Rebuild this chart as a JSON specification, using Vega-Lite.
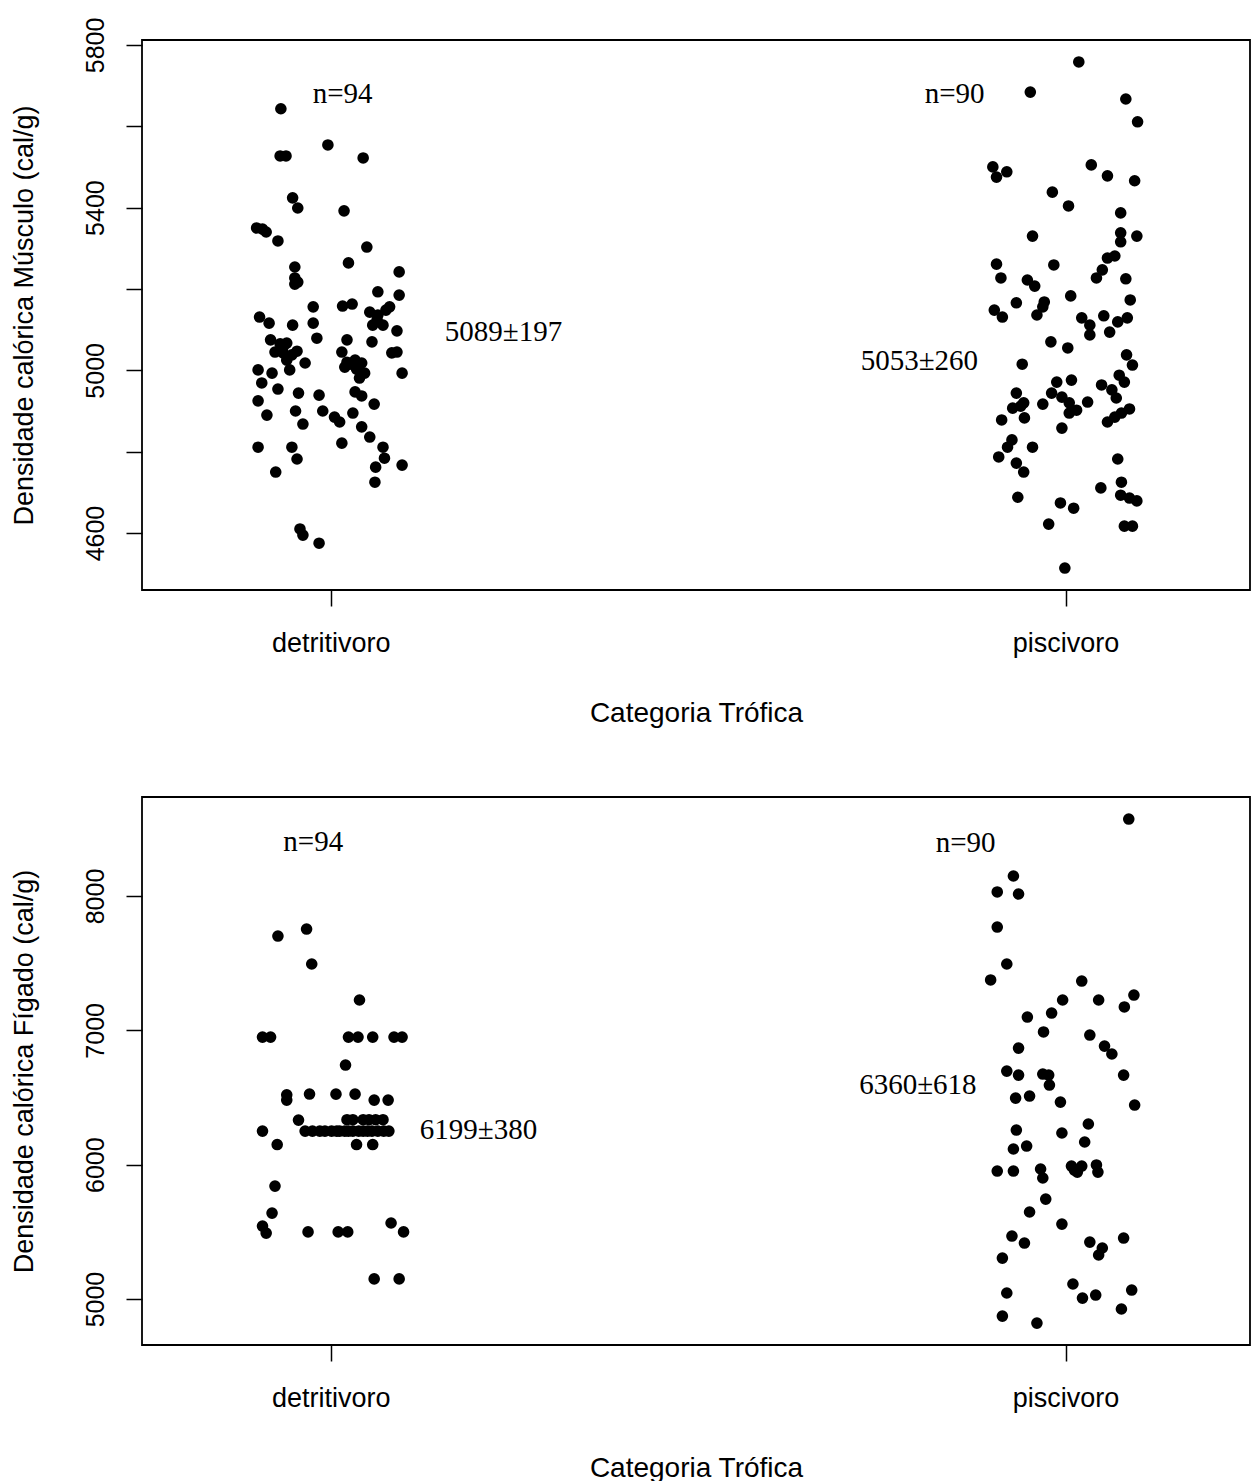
{
  "$schema": "https://vega.github.io/schema/vega-lite/v6.json",
  "background": "white",
  "padding": {"left": 9, "top": 16, "right": 0, "bottom": 0},
  "config": {
    "view": {"stroke": "#000", "strokeWidth": 1.8},
    "concat": {"spacing": 68},
    "axis": {"grid": false, "domain": false, "tickColor": "#000", "tickWidth": 1.5, "tickSize": 16, "labelColor": "#000", "titleColor": "#000", "labelFont": "Liberation Sans", "titleFont": "Liberation Sans", "titleFontWeight": "normal", "labelFlush": false, "labelOverlap": false}
  },
  "datasets": {
    "musc": [
      {"pos":0.932,"val":5643},{"pos":0.996,"val":5554},{"pos":0.931,"val":5527},{"pos":0.939,"val":5527},{"pos":1.044,"val":5522},{"pos":0.948,"val":5424},{"pos":0.955,"val":5399},{"pos":1.018,"val":5392},{"pos":0.899,"val":5350},{"pos":0.912,"val":5340},{"pos":0.928,"val":5318},{"pos":1.049,"val":5303},{"pos":0.951,"val":5254},{"pos":0.951,"val":5227},{"pos":0.951,"val":5212},{"pos":1.024,"val":5264},{"pos":1.093,"val":5242},{"pos":1.064,"val":5193},{"pos":1.093,"val":5185},{"pos":0.976,"val":5156},{"pos":1.016,"val":5158},{"pos":1.029,"val":5163},{"pos":1.053,"val":5143},{"pos":1.064,"val":5136},{"pos":1.080,"val":5156},{"pos":1.057,"val":5111},{"pos":1.071,"val":5111},{"pos":0.903,"val":5131},{"pos":0.916,"val":5116},{"pos":0.948,"val":5111},{"pos":0.976,"val":5116},{"pos":1.090,"val":5097},{"pos":0.981,"val":5079},{"pos":1.022,"val":5075},{"pos":1.056,"val":5070},{"pos":1.083,"val":5043},{"pos":1.090,"val":5045},{"pos":0.918,"val":5075},{"pos":0.931,"val":5065},{"pos":0.940,"val":5067},{"pos":0.924,"val":5045},{"pos":0.935,"val":5043},{"pos":0.954,"val":5047},{"pos":0.940,"val":5025},{"pos":0.944,"val":5001},{"pos":0.965,"val":5018},{"pos":1.015,"val":5045},{"pos":1.022,"val":5020},{"pos":1.033,"val":5025},{"pos":1.042,"val":5018},{"pos":1.019,"val":5008},{"pos":1.046,"val":4993},{"pos":1.039,"val":4981},{"pos":0.901,"val":5001},{"pos":0.920,"val":4993},{"pos":0.906,"val":4969},{"pos":1.097,"val":4993},{"pos":0.928,"val":4954},{"pos":0.956,"val":4944},{"pos":0.984,"val":4939},{"pos":1.033,"val":4947},{"pos":1.042,"val":4937},{"pos":0.901,"val":4925},{"pos":1.059,"val":4917},{"pos":0.952,"val":4900},{"pos":0.989,"val":4900},{"pos":1.005,"val":4885},{"pos":1.012,"val":4873},{"pos":1.030,"val":4895},{"pos":0.913,"val":4890},{"pos":0.962,"val":4868},{"pos":1.042,"val":4861},{"pos":1.053,"val":4836},{"pos":1.015,"val":4821},{"pos":0.901,"val":4811},{"pos":0.947,"val":4811},{"pos":0.954,"val":4782},{"pos":1.071,"val":4811},{"pos":1.073,"val":4784},{"pos":1.061,"val":4762},{"pos":1.097,"val":4767},{"pos":0.925,"val":4750},{"pos":1.060,"val":4725},{"pos":0.958,"val":4610},{"pos":0.962,"val":4595},{"pos":0.984,"val":4575},{"pos":0.935,"val":5057},{"pos":0.947,"val":5038},{"pos":1.026,"val":5015},{"pos":1.035,"val":5003},{"pos":1.063,"val":5124},{"pos":0.955,"val":5217},{"pos":1.075,"val":5148},{"pos":0.907,"val":5347},
      {"pos":2.018,"val":5758},{"pos":1.952,"val":5684},{"pos":2.082,"val":5667},{"pos":2.098,"val":5611},{"pos":1.901,"val":5500},{"pos":1.906,"val":5475},{"pos":1.920,"val":5488},{"pos":2.035,"val":5505},{"pos":2.057,"val":5478},{"pos":2.094,"val":5466},{"pos":1.982,"val":5438},{"pos":2.004,"val":5404},{"pos":2.075,"val":5387},{"pos":1.955,"val":5330},{"pos":2.075,"val":5338},{"pos":2.075,"val":5316},{"pos":2.097,"val":5330},{"pos":1.906,"val":5261},{"pos":1.912,"val":5227},{"pos":1.984,"val":5259},{"pos":2.057,"val":5276},{"pos":2.067,"val":5281},{"pos":2.050,"val":5247},{"pos":2.042,"val":5227},{"pos":1.948,"val":5222},{"pos":1.958,"val":5207},{"pos":2.082,"val":5225},{"pos":2.007,"val":5183},{"pos":1.933,"val":5166},{"pos":1.971,"val":5168},{"pos":1.969,"val":5156},{"pos":2.088,"val":5173},{"pos":1.903,"val":5148},{"pos":1.961,"val":5136},{"pos":1.914,"val":5131},{"pos":2.022,"val":5129},{"pos":2.033,"val":5111},{"pos":2.033,"val":5087},{"pos":2.052,"val":5134},{"pos":2.060,"val":5094},{"pos":2.071,"val":5119},{"pos":2.084,"val":5129},{"pos":1.980,"val":5070},{"pos":2.003,"val":5055},{"pos":1.941,"val":5015},{"pos":2.083,"val":5038},{"pos":2.091,"val":5013},{"pos":2.073,"val":4988},{"pos":2.080,"val":4971},{"pos":1.988,"val":4971},{"pos":2.008,"val":4976},{"pos":1.981,"val":4944},{"pos":1.995,"val":4934},{"pos":2.049,"val":4964},{"pos":2.063,"val":4952},{"pos":2.069,"val":4932},{"pos":1.933,"val":4944},{"pos":1.943,"val":4920},{"pos":1.928,"val":4907},{"pos":1.939,"val":4912},{"pos":1.969,"val":4917},{"pos":2.005,"val":4920},{"pos":2.015,"val":4902},{"pos":2.005,"val":4895},{"pos":2.030,"val":4922},{"pos":2.087,"val":4905},{"pos":2.076,"val":4895},{"pos":2.067,"val":4885},{"pos":2.057,"val":4873},{"pos":1.913,"val":4878},{"pos":1.944,"val":4883},{"pos":1.995,"val":4858},{"pos":1.927,"val":4829},{"pos":1.921,"val":4811},{"pos":1.909,"val":4787},{"pos":1.955,"val":4811},{"pos":1.933,"val":4772},{"pos":1.943,"val":4750},{"pos":2.071,"val":4782},{"pos":2.076,"val":4725},{"pos":2.075,"val":4693},{"pos":2.087,"val":4686},{"pos":2.097,"val":4679},{"pos":2.048,"val":4711},{"pos":1.935,"val":4688},{"pos":1.993,"val":4674},{"pos":2.011,"val":4661},{"pos":1.977,"val":4622},{"pos":2.080,"val":4617},{"pos":2.091,"val":4617},{"pos":1.999,"val":4514}
    ],
    "figa": [
      {"pos":0.928,"val":7702},{"pos":0.967,"val":7754},{"pos":0.974,"val":7494},{"pos":1.039,"val":7226},{"pos":0.907,"val":6950},{"pos":0.918,"val":6950},{"pos":1.024,"val":6950},{"pos":1.037,"val":6950},{"pos":1.057,"val":6950},{"pos":1.086,"val":6950},{"pos":1.097,"val":6950},{"pos":1.020,"val":6742},{"pos":0.940,"val":6520},{"pos":0.940,"val":6481},{"pos":0.971,"val":6526},{"pos":1.007,"val":6525},{"pos":1.033,"val":6525},{"pos":1.059,"val":6481},{"pos":1.078,"val":6481},{"pos":0.956,"val":6332},{"pos":1.022,"val":6335},{"pos":1.044,"val":6335},{"pos":1.061,"val":6335},{"pos":1.071,"val":6335},{"pos":0.907,"val":6250},{"pos":0.965,"val":6250},{"pos":0.985,"val":6250},{"pos":1.001,"val":6250},{"pos":1.019,"val":6250},{"pos":1.030,"val":6250},{"pos":1.044,"val":6250},{"pos":1.050,"val":6250},{"pos":1.064,"val":6250},{"pos":1.079,"val":6250},{"pos":0.927,"val":6150},{"pos":1.035,"val":6150},{"pos":1.057,"val":6150},{"pos":0.924,"val":5841},{"pos":0.920,"val":5640},{"pos":0.907,"val":5543},{"pos":0.912,"val":5491},{"pos":0.969,"val":5500},{"pos":1.010,"val":5500},{"pos":1.023,"val":5500},{"pos":1.082,"val":5566},{"pos":1.099,"val":5500},{"pos":1.059,"val":5150},{"pos":1.093,"val":5150},{"pos":0.975,"val":6250},{"pos":0.992,"val":6250},{"pos":1.008,"val":6250},{"pos":1.012,"val":6250},{"pos":1.024,"val":6250},{"pos":1.038,"val":6250},{"pos":1.056,"val":6250},{"pos":1.072,"val":6250},{"pos":1.030,"val":6335},{"pos":1.052,"val":6335},
      {"pos":2.086,"val":8573},{"pos":1.929,"val":8149},{"pos":1.907,"val":8030},{"pos":1.936,"val":8015},{"pos":1.907,"val":7769},{"pos":1.920,"val":7494},{"pos":1.898,"val":7375},{"pos":2.022,"val":7367},{"pos":1.996,"val":7226},{"pos":2.045,"val":7226},{"pos":2.093,"val":7263},{"pos":2.080,"val":7174},{"pos":1.981,"val":7129},{"pos":1.948,"val":7099},{"pos":1.970,"val":6988},{"pos":2.033,"val":6965},{"pos":2.053,"val":6883},{"pos":2.063,"val":6824},{"pos":1.936,"val":6868},{"pos":1.920,"val":6697},{"pos":1.936,"val":6667},{"pos":1.969,"val":6675},{"pos":1.977,"val":6667},{"pos":1.978,"val":6593},{"pos":2.079,"val":6667},{"pos":1.932,"val":6496},{"pos":1.951,"val":6511},{"pos":1.993,"val":6466},{"pos":2.094,"val":6444},{"pos":1.933,"val":6258},{"pos":1.995,"val":6236},{"pos":2.031,"val":6303},{"pos":2.026,"val":6169},{"pos":1.929,"val":6117},{"pos":1.947,"val":6139},{"pos":1.907,"val":5953},{"pos":1.929,"val":5953},{"pos":1.966,"val":5968},{"pos":1.969,"val":5901},{"pos":2.008,"val":5990},{"pos":2.022,"val":5990},{"pos":2.016,"val":5945},{"pos":2.012,"val":5960},{"pos":2.042,"val":5998},{"pos":2.044,"val":5945},{"pos":1.973,"val":5744},{"pos":1.951,"val":5648},{"pos":1.995,"val":5558},{"pos":1.927,"val":5469},{"pos":1.944,"val":5417},{"pos":1.914,"val":5305},{"pos":2.033,"val":5424},{"pos":2.050,"val":5380},{"pos":2.045,"val":5328},{"pos":2.079,"val":5454},{"pos":2.010,"val":5112},{"pos":1.920,"val":5045},{"pos":2.023,"val":5007},{"pos":2.041,"val":5030},{"pos":2.090,"val":5067},{"pos":2.076,"val":4926},{"pos":1.914,"val":4873},{"pos":1.961,"val":4821}
    ],
    "ann1": [
      {"pos":1.016,"val":5679,"label":"n=94"},
      {"pos":1.849,"val":5679,"label":"n=90"},
      {"pos":1.235,"val":5094,"label":"5089±197"},
      {"pos":1.801,"val":5022,"label":"5053±260"}
    ],
    "ann2": [
      {"pos":0.976,"val":8402,"label":"n=94"},
      {"pos":1.864,"val":8394,"label":"n=90"},
      {"pos":1.201,"val":6258,"label":"6199±380"},
      {"pos":1.799,"val":6597,"label":"6360±618"}
    ]
  },
  "vconcat": [
    {
      "width": 1108,
      "height": 550,
      "layer": [
        {
          "data": {"name": "musc"},
          "mark": {"type": "circle", "size": 135, "color": "#000", "opacity": 1},
          "encoding": {
            "x": {"field": "pos", "type": "quantitative", "scale": {"domain": [0.743, 2.251], "nice": false, "zero": false},
              "axis": {"values": [1, 2], "labelExpr": "datum.value == 1 ? 'detritivoro' : 'piscivoro'", "title": "Categoria Trófica", "labelFontSize": 27, "labelPadding": 24, "titleFontSize": 28, "titlePadding": 43}},
            "y": {"field": "val", "type": "quantitative", "scale": {"domain": [4460, 5812], "nice": false, "zero": false},
              "axis": {"values": [4600, 4800, 5000, 5200, 5400, 5600, 5800], "labelExpr": "datum.value % 400 == 0 ? '' : format(datum.value, 'd')", "title": "Densidade calórica Músculo (cal/g)", "labelAngle": 270, "labelAlign": "center", "labelBaseline": "alphabetic", "labelPadding": 23, "labelFontSize": 25, "titleFontSize": 27, "titleX": -110, "titleBaseline": "alphabetic"}}
          }
        },
        {
          "data": {"name": "ann1"},
          "mark": {"type": "text", "font": "Liberation Serif", "fontSize": 29, "baseline": "middle", "align": "center", "color": "#000"},
          "encoding": {
            "x": {"field": "pos", "type": "quantitative"},
            "y": {"field": "val", "type": "quantitative"},
            "text": {"field": "label"}
          }
        }
      ]
    },
    {
      "width": 1108,
      "height": 548,
      "layer": [
        {
          "data": {"name": "figa"},
          "mark": {"type": "circle", "size": 135, "color": "#000", "opacity": 1},
          "encoding": {
            "x": {"field": "pos", "type": "quantitative", "scale": {"domain": [0.743, 2.251], "nice": false, "zero": false},
              "axis": {"values": [1, 2], "labelExpr": "datum.value == 1 ? 'detritivoro' : 'piscivoro'", "title": "Categoria Trófica", "labelFontSize": 27, "labelPadding": 24, "titleFontSize": 28, "titlePadding": 43}},
            "y": {"field": "val", "type": "quantitative", "scale": {"domain": [4658, 8737], "nice": false, "zero": false},
              "axis": {"values": [5000, 6000, 7000, 8000], "labelExpr": "format(datum.value, 'd')", "title": "Densidade calórica Fígado (cal/g)", "labelAngle": 270, "labelAlign": "center", "labelBaseline": "alphabetic", "labelPadding": 23, "labelFontSize": 25, "titleFontSize": 27, "titleX": -110, "titleBaseline": "alphabetic"}}
          }
        },
        {
          "data": {"name": "ann2"},
          "mark": {"type": "text", "font": "Liberation Serif", "fontSize": 29, "baseline": "middle", "align": "center", "color": "#000"},
          "encoding": {
            "x": {"field": "pos", "type": "quantitative"},
            "y": {"field": "val", "type": "quantitative"},
            "text": {"field": "label"}
          }
        }
      ]
    }
  ]
}
